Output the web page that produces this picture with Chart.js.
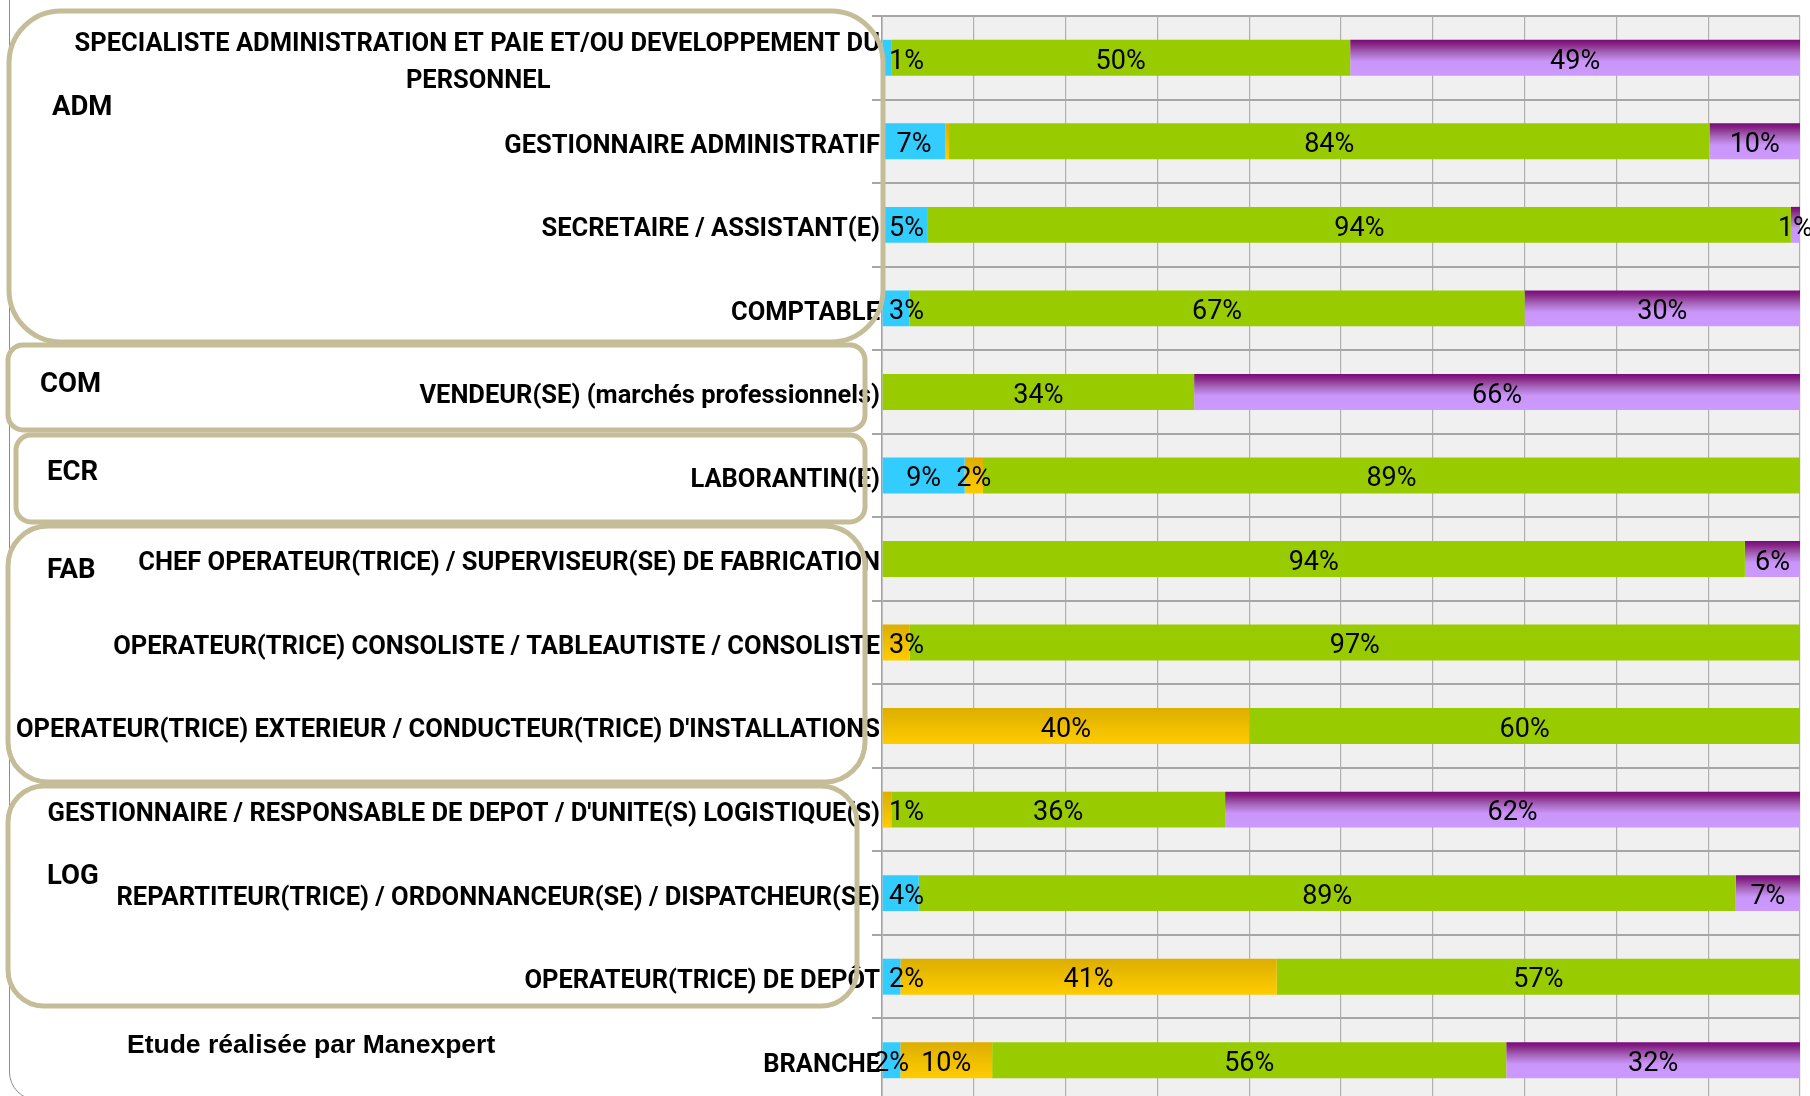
<!DOCTYPE html>
<html>
<head>
<meta charset="utf-8">
<script src="https://cdn.jsdelivr.net/npm/chart.js@4.4.1/dist/chart.umd.min.js"></script>
<style>
  html, body { margin: 0; padding: 0; overflow: hidden; background: #ffffff; width: 1810px; height: 1096px; }
  canvas { display: block; }
</style>
</head>
<body>
<canvas id="chart" width="1810" height="1110"></canvas>
<script>
// ---------------- DATA ----------------
const categories = [
  ["SPECIALISTE ADMINISTRATION ET PAIE ET/OU DEVELOPPEMENT DU", "PERSONNEL"],
  "GESTIONNAIRE ADMINISTRATIF",
  "SECRETAIRE / ASSISTANT(E)",
  "COMPTABLE",
  "VENDEUR(SE) (marchés professionnels)",
  "LABORANTIN(E)",
  "CHEF OPERATEUR(TRICE) / SUPERVISEUR(SE) DE FABRICATION",
  "OPERATEUR(TRICE) CONSOLISTE / TABLEAUTISTE / CONSOLISTE",
  "OPERATEUR(TRICE) EXTERIEUR / CONDUCTEUR(TRICE) D'INSTALLATIONS",
  "GESTIONNAIRE / RESPONSABLE DE DEPOT / D'UNITE(S) LOGISTIQUE(S)",
  "REPARTITEUR(TRICE) / ORDONNANCEUR(SE) / DISPATCHEUR(SE)",
  "OPERATEUR(TRICE) DE DEPÔT",
  "BRANCHE"
];
const seriesBlue   = [1, 7,   5, 3,  0,  9,  0,  0,  0,  0,  4,  2,  2];
const seriesOrange = [0, 0.4, 0, 0,  0,  2,  0,  3,  40, 1,  0,  41, 10];
const seriesGreen  = [50, 84, 94, 67, 34, 89, 94, 97, 60, 36, 89, 57, 56];
const seriesPurple = [49, 10, 1, 30, 66, 0,  6,  0,  0,  62, 7,  0,  32];
const seriesNames  = ["Série 1", "Série 2", "Série 3", "Série 4"];
const groupNames   = ["ADM", "COM", "ECR", "FAB", "LOG"];
const footerText   = "Etude réalisée par Manexpert";

// ---------------- STYLE ----------------
const BAR_PCT = 0.43;
const LABEL_FONT = { family: 'Roboto', weight: 'bold', size: 25.5, lineHeight: 1.45 };

// 100% stacked: normalise each category to its total
const totals = categories.map((_, i) => seriesBlue[i] + seriesOrange[i] + seriesGreen[i] + seriesPurple[i]);
const toPct = arr => arr.map((v, i) => v / totals[i] * 100);

// centre the lines of a multi-line (right aligned) label relative to each other
const measureCtx = document.createElement('canvas').getContext('2d');
function centredLines(label) {
  if (!Array.isArray(label)) return label;
  measureCtx.font = `bold ${LABEL_FONT.size}px ${LABEL_FONT.family}`;
  const widths = label.map(l => measureCtx.measureText(l).width);
  const maxW = Math.max(...widths);
  const sp = measureCtx.measureText(' ').width;
  return label.map((l, k) => l + ' '.repeat(Math.max(0, Math.round((maxW - widths[k]) / 2 / sp))));
}

function vGradient(stops, fallback) {
  return (ctx) => {
    const chart = ctx.chart;
    if (!chart.chartArea || ctx.type !== 'data') return fallback;
    const y = chart.scales.y;
    const c = y.getPixelForValue(ctx.dataIndex);
    const band = Math.abs(y.getPixelForValue(1) - y.getPixelForValue(0));
    const h = band * BAR_PCT;
    const g = chart.ctx.createLinearGradient(0, c - h / 2, 0, c + h / 2);
    stops.forEach(([o, col]) => g.addColorStop(o, col));
    return g;
  };
}

const plotBackground = {
  id: 'plotBackground',
  beforeDraw(chart) {
    const { ctx, chartArea: a } = chart;
    ctx.save();
    ctx.fillStyle = '#f0f0f0';
    ctx.fillRect(a.left, a.top, a.right - a.left, a.bottom - a.top);
    ctx.restore();
  }
};

const dataLabels = {
  id: 'dataLabels',
  afterDatasetsDraw(chart) {
    const ctx = chart.ctx;
    const minLeft = chart.chartArea.left + 7;
    ctx.save();
    ctx.font = '27px Roboto';
    ctx.fillStyle = '#000000';
    ctx.textAlign = 'center';
    ctx.textBaseline = 'middle';
    const n = chart.data.labels.length;
    for (let i = 0; i < n; i++) {
      const items = [];
      chart.data.datasets.forEach((ds, di) => {
        const r = Math.round(ds.rawValues[i]);
        if (r <= 0) return;
        const bar = chart.getDatasetMeta(di).data[i];
        const p = bar.getProps(['x', 'base', 'y'], true);
        const txt = r + '%';
        const w = ctx.measureText(txt).width;
        items.push({ txt, w, cx: (p.x + p.base) / 2, y: p.y + 4 });
      });
      items.forEach((it, k) => {
        if (it.cx - it.w / 2 < minLeft) {
          const shifted = minLeft + it.w / 2;
          const next = items[k + 1];
          if (!next || shifted + it.w / 2 + 6 < next.cx - next.w / 2) it.cx = shifted;
        }
        ctx.fillText(it.txt, it.cx, it.y);
      });
    }
    ctx.restore();
  }
};

// grouping frames drawn over the chart (decoration)
const groupFrames = [
  { x: 9,  y: 11,  w: 874, h: 331, r: 52, lx: 52, ly: 108 },
  { x: 8,  y: 345, w: 857, h: 85,  r: 15, lx: 40, ly: 385 },
  { x: 16, y: 435, w: 849, h: 87,  r: 15, lx: 47, ly: 473 },
  { x: 8,  y: 526, w: 857, h: 256, r: 40, lx: 47, ly: 571 },
  { x: 8,  y: 786, w: 849, h: 220, r: 36, lx: 47, ly: 877 }
];

const decorations = {
  id: 'decorations',
  afterDraw(chart) {
    const ctx = chart.ctx;
    ctx.save();
    // outer chart border
    ctx.strokeStyle = '#8c8c8c';
    ctx.lineWidth = 1;
    ctx.beginPath();
    ctx.moveTo(9.5, 0);
    ctx.lineTo(9.5, 1070);
    ctx.arcTo(9.5, 1100, 40, 1100, 28);
    ctx.lineTo(1810, 1100);
    ctx.stroke();
    // group frames
    ctx.strokeStyle = '#c4bd97';
    ctx.lineWidth = 5;
    groupFrames.forEach(f => {
      ctx.beginPath();
      ctx.roundRect(f.x, f.y, f.w, f.h, f.r);
      ctx.stroke();
    });
    // group names
    ctx.fillStyle = '#000000';
    ctx.font = 'bold 27.5px Roboto';
    ctx.textAlign = 'left';
    ctx.textBaseline = 'middle';
    groupFrames.forEach((f, i) => ctx.fillText(groupNames[i], f.lx, f.ly));
    // footer
    ctx.font = 'bold 26.5px "Liberation Sans", Arial, sans-serif';
    ctx.textBaseline = 'alphabetic';
    ctx.fillText(footerText, 127, 1053);
    ctx.restore();
  }
};

new Chart(document.getElementById('chart'), {
  type: 'bar',
  data: {
    labels: categories,
    datasets: [
      { label: seriesNames[0], data: toPct(seriesBlue), rawValues: seriesBlue, backgroundColor: '#33ccff' },
      { label: seriesNames[1], data: toPct(seriesOrange), rawValues: seriesOrange,
        backgroundColor: vGradient([[0, '#dcae00'], [1, '#ffcc00']], '#f0c000') },
      { label: seriesNames[2], data: toPct(seriesGreen), rawValues: seriesGreen, backgroundColor: '#99cc00' },
      { label: seriesNames[3], data: toPct(seriesPurple), rawValues: seriesPurple,
        backgroundColor: vGradient([[0, '#7a0a7a'], [0.12, '#862486'], [0.35, '#a464b8'], [0.6, '#c995f8'], [1, '#cc99ff']], '#cc99ff') }
    ]
  },
  options: {
    indexAxis: 'y',
    responsive: false,
    animation: false,
    datasets: { bar: { categoryPercentage: 1, barPercentage: BAR_PCT, borderWidth: 0 } },
    layout: { padding: { top: 16, right: 10, bottom: 8, left: 0 } },
    plugins: { legend: { display: false }, tooltip: { enabled: false } },
    scales: {
      x: {
        stacked: true, min: 0, max: 100,
        ticks: { display: false, stepSize: 10 },
        grid: { color: '#b0b0b0', lineWidth: 1.2, drawTicks: false },
        border: { display: false }
      },
      y: {
        stacked: true, offset: true,
        grid: { offset: true, color: '#a6a6a6', lineWidth: 2, tickLength: 10 },
        border: { display: true, color: '#a0a0a0', width: 1.5 },
        ticks: {
          color: '#000000', font: LABEL_FONT, padding: -8, labelOffset: 5, autoSkip: false,
          callback(value, index) { return centredLines(categories[index]); }
        },
        afterFit(s) { s.width = 882; s.paddingTop = 0; s.paddingBottom = 0; }
      }
    }
  },
  plugins: [plotBackground, dataLabels, decorations]
});
</script>
</body>
</html>
